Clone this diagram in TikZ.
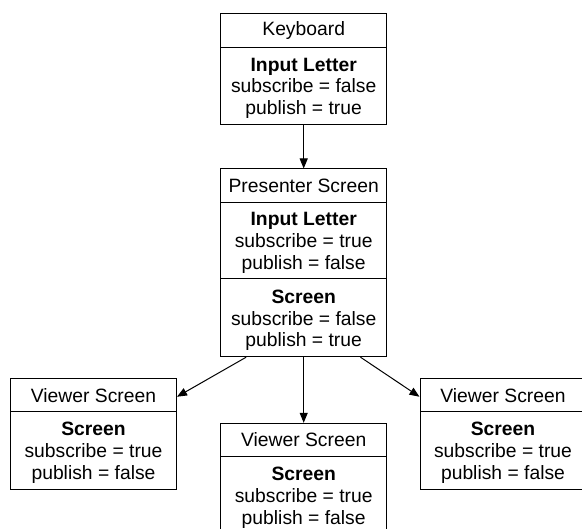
\documentclass[tikz,border=0pt]{standalone}
\usepackage{fontspec}
\setmainfont{Liberation Sans}
\usetikzlibrary{arrows.meta}
\begin{document}
\begin{tikzpicture}[x=1pt,y=1pt,
  part/.style={draw, line width=1pt, minimum width=166pt, inner sep=0pt, align=center,
    font=\fontsize{19.3}{21.9}\selectfont},
  hdr/.style={part, minimum height=33.3pt},
  sec/.style={part, minimum height=77.3pt},
  txt/.style={inner sep=0pt, align=center, font=\fontsize{19.3}{21.9}\selectfont},
  conn/.style={line width=1pt, -{Triangle[length=10pt,width=8pt]}}]
\fill[white] (0,0) rectangle (582,-529);
\useasboundingbox (0,0) rectangle (582,-529);
% Keyboard
\node[hdr, minimum height=34pt] (kbh) at (303.7,-30.3) {Keyboard};
\node[sec, minimum height=77pt] (kbs) at (303.7,-85.8) {};
\node[txt] (kbt) at ([yshift=-2.5pt]kbs.center) {\textbf{Input Letter}\\subscribe = false\\publish = true};
% Presenter
\node[hdr] (ph) at (303.7,-185.65) {Presenter Screen};
\node[sec, minimum height=76.7pt] (ps1) at (303.7,-240.65) {};
\node[txt] (ps1t) at ([yshift=-2.5pt]ps1.center) {\textbf{Input Letter}\\subscribe = true\\publish = false};
\node[sec, minimum height=77.7pt] (ps2) at (303.7,-317.85) {};
\node[txt] (ps2t) at ([yshift=-2.5pt]ps2.center) {\textbf{Screen}\\subscribe = false\\publish = true};
% Viewer left
\node[hdr, minimum height=32.7pt] (lh) at (93.5,-395.35) {Viewer Screen};
\node[sec, minimum height=77.6pt] (ls) at (93.5,-450.5) {};
\node[txt] (lt) at ([yshift=-2.5pt]ls.center) {\textbf{Screen}\\subscribe = true\\publish = false};
% Viewer middle
\node[hdr, minimum height=33.4pt] (mh) at (303.7,-440) {Viewer Screen};
\node[sec, minimum height=77.6pt] (ms) at (303.7,-495.5) {};
\node[txt] (mt) at ([yshift=-2.5pt]ms.center) {\textbf{Screen}\\subscribe = true\\publish = false};
% Viewer right
\node[hdr, minimum height=32.7pt] (rh) at (503,-395.35) {Viewer Screen};
\node[sec, minimum height=77.6pt] (rs) at (503,-450.5) {};
\node[txt] (rt) at ([yshift=-2.5pt]rs.center) {\textbf{Screen}\\subscribe = true\\publish = false};
% connectors
\draw[conn] (kbs.south) -- (ph.north);
\draw[conn] (ps2.south) -- (mh.north);
\draw[conn] ([xshift=26pt]ps2.south west) -- ([yshift=-1.4pt]lh.east);
\draw[conn] ([xshift=-26.7pt]ps2.south east) -- ([yshift=-1.4pt]rh.west);
\end{tikzpicture}
\end{document}
